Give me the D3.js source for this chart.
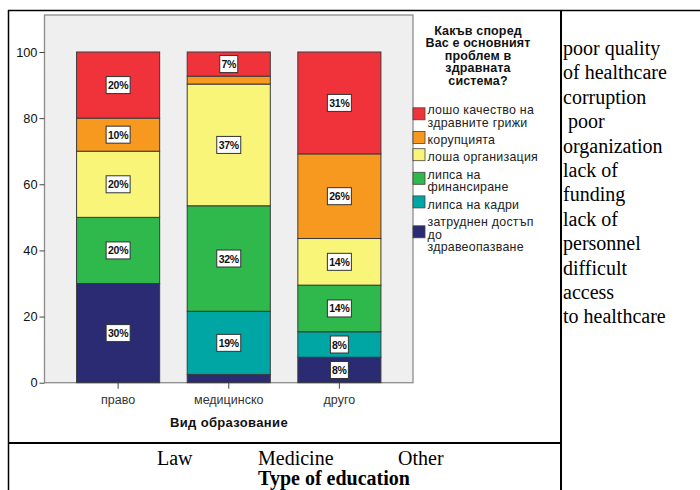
<!DOCTYPE html>
<html><head><meta charset="utf-8">
<script src="https://cdn.jsdelivr.net/npm/d3@7"></script>
<style>body{margin:0;background:#fff}svg{display:block}</style>
</head><body><svg id="c" width="700" height="490"></svg>
<script>
// ---- data ----
const categories = ["право", "медицинско", "друго"];
const access = [30, 2.5, 7.7];        // затруднен достъп до здравеопазване
const personnel = [0, 19.1, 7.7];     // липса на кадри
const funding = [20, 31.9, 14.1];     // липса на финансиране
const organization = [20, 36.8, 14.1];// лоша организация
const corruption = [10, 2.4, 25.6];   // корупцията
const quality = [20, 7.3, 30.8];      // лошо качество на здравните грижи
const yTicks = [0, 20, 40, 60, 80, 100];
const legendTitle = ["Какъв според", "Вас е основният", "проблем в", "здравната", "система?"];
const legendLabels = [
  ["лошо качество на", "здравните грижи"],
  ["корупцията"],
  ["лоша организация"],
  ["липса на", "финансиране"],
  ["липса на кадри"],
  ["затруднен достъп", "до", "здравеопазване"]
];
const xTitle = "Вид образование";
const englishLegend = ["poor quality", "of healthcare", "corruption", " poor", "organization", "lack of", "funding", "lack of", "personnel", "difficult", "access", "to healthcare"];
const englishCats = ["Law", "Medicine", "Other"];
const englishTitle = "Type of education";

const seriesKeys = ["access", "personnel", "funding", "organization", "corruption", "quality"];
const seriesValues = {access, personnel, funding, organization, corruption, quality};
const colors = {
  access: "#2a2b73", personnel: "#00a6a3", funding: "#2fb84b",
  organization: "#f9f578", corruption: "#f7981f", quality: "#f0323b"
};
const legendOrder = ["quality", "corruption", "organization", "funding", "personnel", "access"];

const svg = d3.select("#c");
const SANS = "'Liberation Sans', Arial, sans-serif";
const SERIF = "'Liberation Serif', 'Times New Roman', serif";

// ---- table lines ----
const tl = svg.append("g").attr("stroke", "#000");
tl.append("line").attr("x1", 8).attr("x2", 700).attr("y1", 10.5).attr("y2", 10.5).attr("stroke-width", 1.5);
tl.append("line").attr("x1", 8.5).attr("x2", 8.5).attr("y1", 10).attr("y2", 490).attr("stroke-width", 1.5);
tl.append("line").attr("x1", 561).attr("x2", 561).attr("y1", 10).attr("y2", 490).attr("stroke-width", 2);
tl.append("line").attr("x1", 8).attr("x2", 561).attr("y1", 443).attr("y2", 443).attr("stroke-width", 2);

// ---- plot ----
const plot = {left: 44.5, right: 413, top: 15, bottom: 382.7};
const y = d3.scaleLinear().domain([0, 100]).range([plot.bottom, 52]);
const x = d3.scaleBand().domain(categories).range([plot.left, plot.right])
  .paddingInner(0.249).paddingOuter(0.29);

svg.append("rect").attr("x", plot.left).attr("y", plot.top)
  .attr("width", plot.right - plot.left).attr("height", plot.bottom - plot.top)
  .attr("fill", "#efefef").attr("stroke", "#8c8c8c").attr("stroke-width", 1.3);

const rows = categories.map((c, i) => {
  const r = {cat: c};
  seriesKeys.forEach(k => r[k] = seriesValues[k][i]);
  return r;
});
const stacked = d3.stack().keys(seriesKeys)(rows);

const gBars = svg.append("g");
stacked.forEach(s => {
  gBars.selectAll(null).data(s.filter(d => d[1] - d[0] > 0)).enter().append("rect")
    .attr("x", d => x(d.data.cat))
    .attr("width", x.bandwidth())
    .attr("y", d => y(d[1]))
    .attr("height", d => y(d[0]) - y(d[1]))
    .attr("fill", colors[s.key])
    .attr("stroke", "#3a3a3a").attr("stroke-width", 1);
});

// value labels
const gLab = svg.append("g");
stacked.forEach(s => {
  s.filter(d => d[1] - d[0] >= 5).forEach(d => {
    const cx = x(d.data.cat) + x.bandwidth() / 2;
    const cy = (y(d[0]) + y(d[1])) / 2;
    const txt = Math.round(d[1] - d[0]) + "%";
    const w = txt.length === 2 ? 18 : 24;
    gLab.append("rect").attr("x", cx - w / 2).attr("y", cy - 8.5).attr("width", w).attr("height", 17)
      .attr("fill", "#fff").attr("stroke", "#333").attr("stroke-width", 1);
    gLab.append("text").attr("x", cx).attr("y", cy + 4)
      .attr("text-anchor", "middle").attr("font-family", SANS).attr("font-weight", "bold")
      .attr("font-size", 10.5).attr("letter-spacing", -0.3).attr("fill", "#111").text(txt);
  });
});

// y axis
const ya = svg.append("g").attr("transform", `translate(${plot.left},0)`)
  .call(d3.axisLeft(y).tickValues(yTicks).tickSize(5).tickPadding(2));
ya.select(".domain").remove();
ya.selectAll(".tick line").attr("stroke", "#444");
ya.selectAll(".tick text").attr("font-family", SANS).attr("font-size", 12.8).attr("fill", "#111");

// x axis
const xa = svg.append("g").attr("transform", `translate(0,${plot.bottom})`)
  .call(d3.axisBottom(x).tickSize(6).tickPadding(6));
xa.select(".domain").remove();
xa.selectAll(".tick line").attr("stroke", "#444");
xa.selectAll(".tick text").attr("font-family", SANS).attr("font-size", 12.5).attr("fill", "#333");

svg.append("text").attr("x", 229).attr("y", 427).attr("text-anchor", "middle")
  .attr("font-family", SANS).attr("font-weight", "bold").attr("font-size", 13)
  .attr("letter-spacing", 0.35).attr("fill", "#111")
  .text(xTitle);

// legend title (one text, several lines)
const lt = svg.append("text").attr("text-anchor", "middle")
  .attr("font-family", SANS).attr("font-weight", "bold").attr("font-size", 12.5)
  .attr("letter-spacing", 0.15).attr("fill", "#111");
legendTitle.forEach((t, i) => {
  lt.append("tspan").attr("x", 478).attr("y", 34.5 + i * 12.5).text(t);
});

// legend items
const lg = svg.append("g");
let cy = 110;
const lineH = 12.6, gap = 17.3;
legendOrder.forEach((k, i) => {
  const lines = legendLabels[i];
  const first = cy;
  const t = lg.append("text").attr("font-family", SANS).attr("font-size", 12.4)
    .attr("letter-spacing", 0.25).attr("fill", "#222");
  lines.forEach((s, j) => {
    t.append("tspan").attr("x", 427.5).attr("y", cy + 4.2).text(s);
    if (j < lines.length - 1) cy += lineH;
  });
  const center = (first + cy) / 2 - 2.5;
  lg.append("rect").attr("x", 413).attr("y", center - 6).attr("width", 12).attr("height", 12)
    .attr("fill", colors[k]).attr("stroke", "#444").attr("stroke-width", 0.8);
  cy += gap;
});

// english legend (right column)
const el = svg.append("text").attr("font-family", SERIF).attr("font-size", 20).attr("fill", "#000")
  .style("white-space", "pre");
englishLegend.forEach((t, i) => {
  el.append("tspan").attr("x", 563).attr("y", 55 + i * 24.4).text(t);
});

// english categories and title
const catX = [157, 258, 398];
englishCats.forEach((t, i) => {
  svg.append("text").attr("x", catX[i]).attr("y", 465)
    .attr("font-family", SERIF).attr("font-size", 20).attr("fill", "#000").text(t);
});
svg.append("text").attr("x", 334).attr("y", 485).attr("text-anchor", "middle")
  .attr("font-family", SERIF).attr("font-weight", "bold").attr("font-size", 20).attr("fill", "#000")
  .text(englishTitle);
</script></body></html>
